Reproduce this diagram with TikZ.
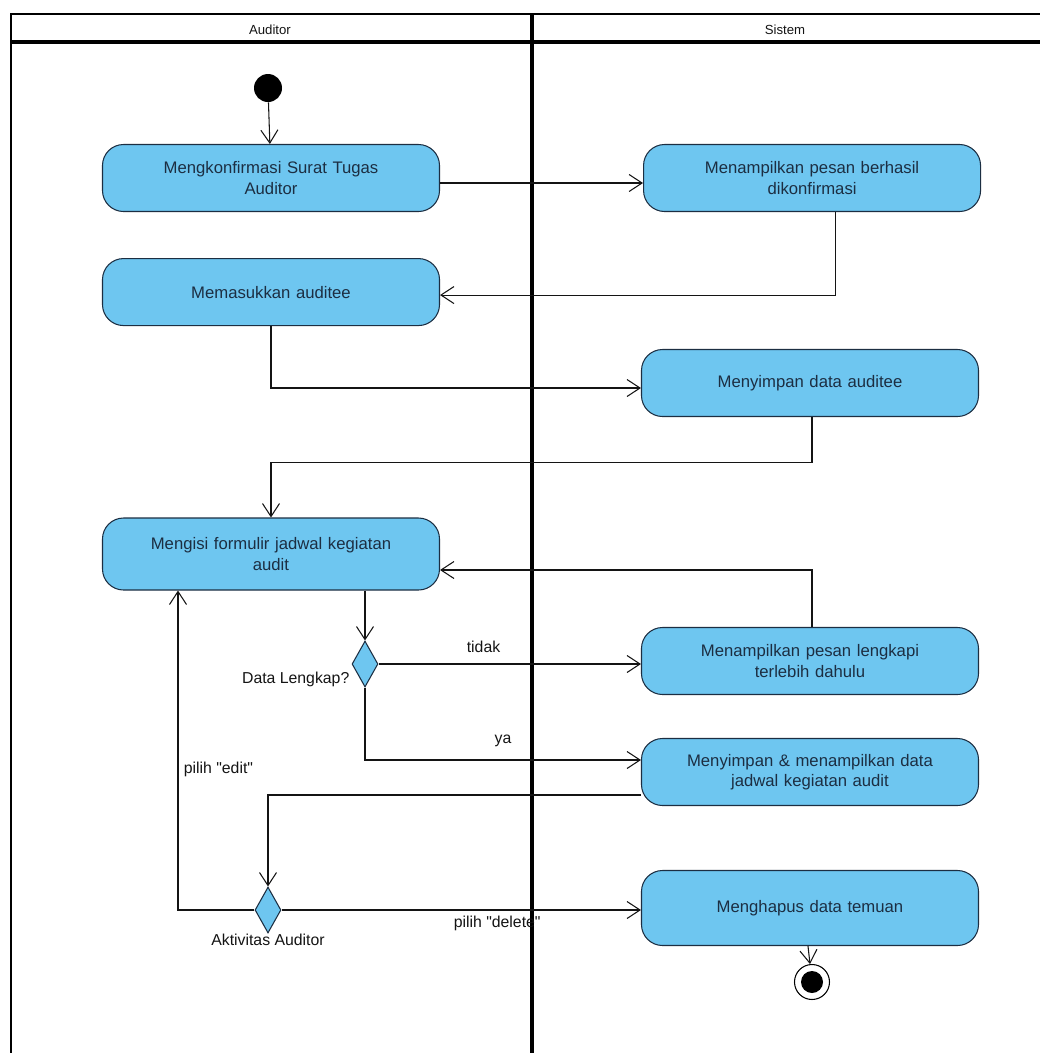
\documentclass[tikz,border=0pt]{standalone}
\usepackage{fontspec}
\setmainfont{Liberation Sans}
\usepackage{tikz}
\usetikzlibrary{shapes.geometric, arrows.meta, positioning, calc}
\definecolor{actfill}{RGB}{110,198,240}
\definecolor{actdraw}{RGB}{28,46,66}
\definecolor{mydark}{RGB}{20,20,20}
\tikzset{
  activity/.style={rectangle, draw=actdraw, fill=actfill,
    text width=6.2cm, align=center, minimum width=6.74cm, minimum height=1.34cm,
    font=\fontsize{9.5}{11.5}\selectfont, text=actdraw,
    rounded corners=0.42cm, line width=0.6pt},
  decision/.style={diamond, draw=actdraw, fill=actfill, aspect=0.55,
    inner sep=0pt, minimum width=0.52cm, minimum height=0.92cm, line width=0.6pt},
  startnode/.style={circle, fill=black, minimum size=0.56cm, inner sep=0pt},
  endnode/.style={circle, draw=black, line width=0.6pt, minimum size=0.7cm, inner sep=0pt,
    path picture={\fill[black] (path picture bounding box.center) circle (0.22cm);}},
  flow/.style={-{Straight Barb[length=2.6mm,width=3.4mm]}, line width=0.6pt, color=mydark},
  lbl/.style={font=\fontsize{9}{11}\selectfont, text=mydark, inner sep=1pt},
  lanetitle/.style={font=\fontsize{7.5}{9}\selectfont, text=mydark}
}
\newcommand{\qt}[1]{\textquotedbl#1\textquotedbl}

\begin{document}
\begin{tikzpicture}[x=0.2mm, y=-0.2mm]
  \useasboundingbox (0,0) rectangle (1040,1053);
  % swimlanes
  \draw[line width=1pt] (11,1053) -- (11,14) -- (1040,14);
  \draw[line width=2.2pt] (11,42) -- (1040,42);
  \draw[line width=2pt] (532,14) -- (532,1053);
  \node[lanetitle] (laneA) at (270,30) {Auditor};
  \node[lanetitle] (laneS) at (785,30) {Sistem};

  % nodes
  \node[startnode] (start) at (268,88) {};
  \node[activity] (a1) at (271,178) {Mengkonfirmasi Surat Tugas\\Auditor};
  \node[activity, right=4.06cm of a1] (a2) {Menampilkan pesan berhasil\\dikonfirmasi};
  \node[activity, below=0.92cm of a1] (a3) {Memasukkan auditee};
  \node[activity] (a4) at (810,383) {Menyimpan data auditee};
  \node[activity, minimum height=1.44cm] (a5) at (271,554) {Mengisi formulir jadwal kegiatan\\audit};
  \node[activity] (a6) at (810,661) {Menampilkan pesan lengkapi\\terlebih dahulu};
  \node[decision] (d1) at (365,664) {};
  \node[activity] (a7) at (810,772) {Menyimpan \& menampilkan data\\jadwal kegiatan audit};
  \node[decision] (d2) at (268,910) {};
  \node[activity, minimum height=1.5cm] (a8) at (810,908) {Menghapus data temuan};
  \node[endnode] (stop) at (812,982) {};

  \node[lbl, anchor=north east] (d1lbl) at (d1.west |- 0,670) {Data Lengkap?};
  \node[lbl, anchor=north] (d2lbl) at (268,932) {Aktivitas Auditor};

  % connectors
  \draw[flow] (start) -- (a1);
  \draw[flow] ([yshift=-1mm]a1.east) -- ([yshift=-1mm]a2.west);
  \draw[flow] ([xshift=4.6mm]a2.south) |- ([yshift=-0.6mm]a3.east);
  \draw[flow] (a3.south) |- ([yshift=-1mm]a4.west);
  \draw[flow] ([xshift=0.4mm]a4.south) -- ++(0,45) -| (a5.north);
  \draw[flow] ([xshift=0.4mm]a6.north) |- ([yshift=-3.2mm]a5.east);
  \draw[flow] (d1.north |- a5.south) -- (d1.north);
  \draw[flow] (d1.east) -- (a6.west |- d1.east)
    node[lbl, pos=0.4, above=5pt] (tidak) {tidak};
  \draw[flow] (d1.south) |- ([yshift=2.4mm]a7.west)
    node[lbl, pos=0.75, above=6pt] (ya) {ya};
  \draw[flow] ([yshift=-4.6mm]a7.west) -| (d2.north);
  \draw[flow] (d2.west) -| ([xshift=-18.6mm]a5.south)
    node[lbl, pos=0.72, right=2pt] (edit) {pilih \qt{edit}};
  \draw[flow] (d2.east) -- (a8.west |- d2.east)
    node[lbl, pos=0.6, below=2pt] (delete) {pilih \qt{delete}};
  \draw[flow] ([xshift=-0.4mm]a8.south) -- (stop);
\end{tikzpicture}
\end{document}
